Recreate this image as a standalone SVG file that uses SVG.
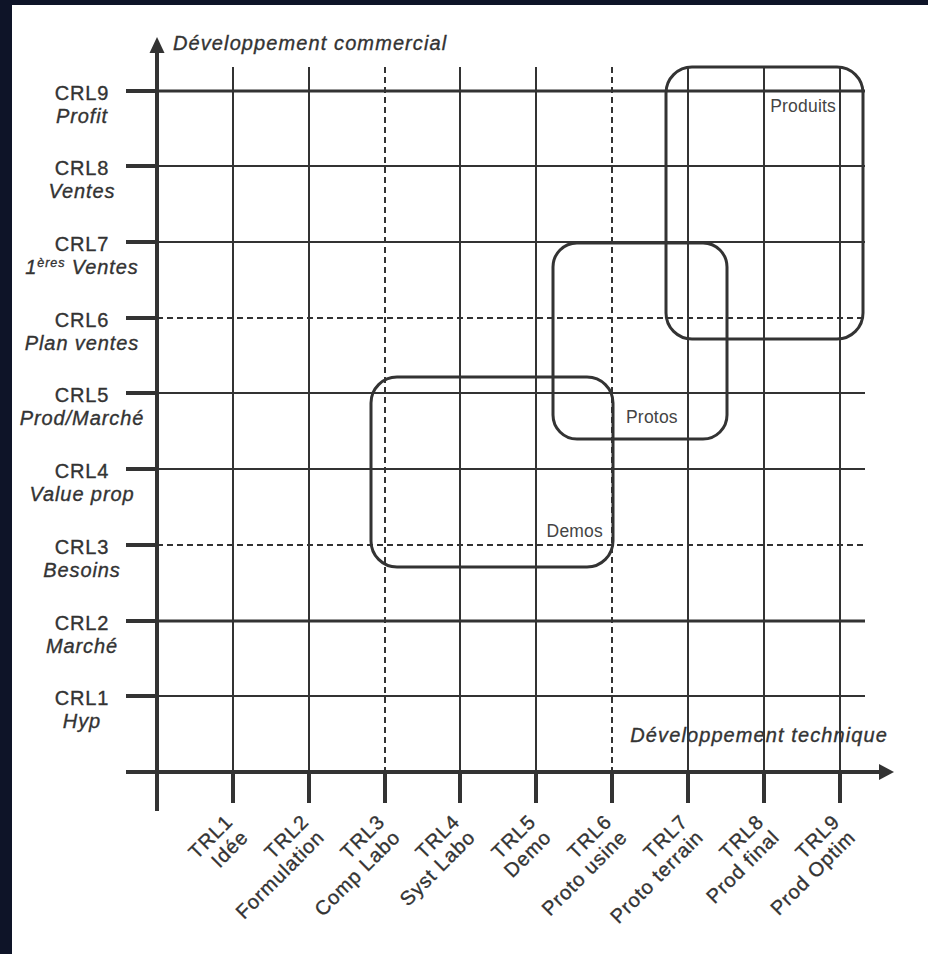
<svg xmlns="http://www.w3.org/2000/svg" width="928" height="954" viewBox="0 0 928 954">
<style>
.t{font-family:"Liberation Sans",Arial,sans-serif;font-size:20px;letter-spacing:0.9px;fill:#333;stroke:#333;stroke-width:0.35px}
.i{font-style:italic}
.ax{font-family:"Liberation Sans",Arial,sans-serif;font-size:20px;letter-spacing:1.1px;font-style:italic;fill:#333;stroke:#333;stroke-width:0.35px}
.bl{font-family:"Liberation Sans",Arial,sans-serif;font-size:17.5px;letter-spacing:0.2px;fill:#444}
.g{stroke:#333;stroke-width:2;fill:none}
.gt{stroke:#333;stroke-width:3;fill:none}
.d{stroke-dasharray:6 4}
.tick{stroke:#333;stroke-width:4}
.box{fill:none;stroke:#333;stroke-width:3}
</style>
<rect x="0" y="0" width="928" height="954" fill="#0e1428"/>
<rect x="12" y="5" width="916" height="949" fill="#ffffff"/>
<g id="grid">
<line class="g" x1="233" y1="67" x2="233" y2="772"/>
<line class="g" x1="309" y1="67" x2="309" y2="772"/>
<line class="g d" x1="385" y1="67" x2="385" y2="772"/>
<line class="g" x1="460" y1="67" x2="460" y2="772"/>
<line class="g" x1="536" y1="67" x2="536" y2="772"/>
<line class="g d" x1="612" y1="67" x2="612" y2="772"/>
<line class="g" x1="688" y1="67" x2="688" y2="772"/>
<line class="g" x1="764" y1="67" x2="764" y2="772"/>
<line class="g" x1="840" y1="67" x2="840" y2="772"/>
<line class="g" x1="157" y1="696" x2="865" y2="696"/>
<line class="gt" x1="157" y1="621" x2="865" y2="621"/>
<line class="g d" x1="157" y1="545" x2="865" y2="545"/>
<line class="g" x1="157" y1="469" x2="865" y2="469"/>
<line class="g" x1="157" y1="393" x2="865" y2="393"/>
<line class="g d" x1="157" y1="318" x2="865" y2="318"/>
<line class="g" x1="157" y1="242" x2="865" y2="242"/>
<line class="g" x1="157" y1="166" x2="865" y2="166"/>
<line class="gt" x1="157" y1="91" x2="865" y2="91"/>
</g>
<g id="connectors">
<line class="tick" x1="157" y1="50" x2="157" y2="811"/>
<polygon points="157,37 164.5,53 149.5,53" fill="#333"/>
<line class="tick" x1="126" y1="772" x2="882" y2="772"/>
<polygon points="894,772 879,764 879,780" fill="#333"/>
<g id="ticks">
<line class="tick" x1="126" y1="696" x2="157" y2="696"/>
<line class="tick" x1="126" y1="621" x2="157" y2="621"/>
<line class="tick" x1="126" y1="545" x2="157" y2="545"/>
<line class="tick" x1="126" y1="469" x2="157" y2="469"/>
<line class="tick" x1="126" y1="393" x2="157" y2="393"/>
<line class="tick" x1="126" y1="318" x2="157" y2="318"/>
<line class="tick" x1="126" y1="242" x2="157" y2="242"/>
<line class="tick" x1="126" y1="166" x2="157" y2="166"/>
<line class="tick" x1="126" y1="91" x2="157" y2="91"/>
<line class="tick" x1="233" y1="772" x2="233" y2="803"/>
<line class="tick" x1="309" y1="772" x2="309" y2="803"/>
<line class="tick" x1="385" y1="772" x2="385" y2="803"/>
<line class="tick" x1="460" y1="772" x2="460" y2="803"/>
<line class="tick" x1="536" y1="772" x2="536" y2="803"/>
<line class="tick" x1="612" y1="772" x2="612" y2="803"/>
<line class="tick" x1="688" y1="772" x2="688" y2="803"/>
<line class="tick" x1="764" y1="772" x2="764" y2="803"/>
<line class="tick" x1="840" y1="772" x2="840" y2="803"/>
</g>
</g>
<g id="axis-titles">
<text class="ax" x="173" y="50">Développement commercial</text>
<text class="ax" x="888" y="742" text-anchor="end">Développement technique</text>
</g>
<g id="box-demos">
<rect class="box" x="371" y="377" width="242" height="190" rx="26"/>
<text class="bl" x="603" y="537" text-anchor="end">Demos</text>
</g>
<g id="box-protos">
<rect class="box" x="553" y="243" width="174" height="196" rx="24"/>
<text class="bl" x="626" y="423">Protos</text>
</g>
<g id="box-produits">
<rect class="box" x="666" y="67" width="197" height="272" rx="26"/>
<text class="bl" x="836" y="112" text-anchor="end">Produits</text>
</g>
<g id="crl-labels" text-anchor="middle">
<text class="t" x="82" y="100">CRL9</text><text class="t i" x="82" y="123">Profit</text>
<text class="t" x="82" y="175">CRL8</text><text class="t i" x="82" y="198">Ventes</text>
<text class="t" x="82" y="251">CRL7</text><text class="t i" x="82" y="274">1<tspan font-size="12.5" dy="-7">ères</tspan><tspan dy="7"> Ventes</tspan></text>
<text class="t" x="82" y="327">CRL6</text><text class="t i" x="82" y="350">Plan ventes</text>
<text class="t" x="82" y="402">CRL5</text><text class="t i" x="82" y="425">Prod/Marché</text>
<text class="t" x="82" y="478">CRL4</text><text class="t i" x="82" y="501">Value prop</text>
<text class="t" x="82" y="554">CRL3</text><text class="t i" x="82" y="577">Besoins</text>
<text class="t" x="82" y="630">CRL2</text><text class="t i" x="82" y="653">Marché</text>
<text class="t" x="82" y="705">CRL1</text><text class="t i" x="82" y="728">Hyp</text>
</g>
<g id="trl-labels" text-anchor="end">
<text class="t" transform="translate(234,823) rotate(-45)"><tspan x="0" y="0">TRL1</tspan><tspan x="0" y="22">Idée</tspan></text>
<text class="t" transform="translate(310,823) rotate(-45)"><tspan x="0" y="0">TRL2</tspan><tspan x="0" y="22">Formulation</tspan></text>
<text class="t" transform="translate(386,823) rotate(-45)"><tspan x="0" y="0">TRL3</tspan><tspan x="0" y="22">Comp Labo</tspan></text>
<text class="t" transform="translate(461,823) rotate(-45)"><tspan x="0" y="0">TRL4</tspan><tspan x="0" y="22">Syst Labo</tspan></text>
<text class="t" transform="translate(537,823) rotate(-45)"><tspan x="0" y="0">TRL5</tspan><tspan x="0" y="22">Demo</tspan></text>
<text class="t" transform="translate(613,823) rotate(-45)"><tspan x="0" y="0">TRL6</tspan><tspan x="0" y="22">Proto usine</tspan></text>
<text class="t" transform="translate(689,823) rotate(-45)"><tspan x="0" y="0">TRL7</tspan><tspan x="0" y="22">Proto terrain</tspan></text>
<text class="t" transform="translate(765,823) rotate(-45)"><tspan x="0" y="0">TRL8</tspan><tspan x="0" y="22">Prod final</tspan></text>
<text class="t" transform="translate(841,823) rotate(-45)"><tspan x="0" y="0">TRL9</tspan><tspan x="0" y="22">Prod Optim</tspan></text>
</g>
</svg>
